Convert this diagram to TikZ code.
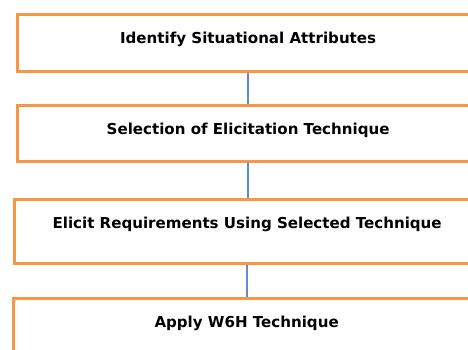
\documentclass[tikz,border=0pt]{standalone}
\usepackage{fontspec}
\setmainfont{DejaVu Sans}
\usetikzlibrary{positioning}
\definecolor{boxorange}{HTML}{F79646}
\definecolor{linkblue}{HTML}{5B8ED0}

\begin{document}
\begin{tikzpicture}[x=0.75pt, y=-0.75pt,
    stage/.style={draw=boxorange, line width=2.4pt, fill=white, anchor=north west, inner sep=0pt, text height=21.75pt, font=\bfseries\fontsize{11.3}{13}\selectfont},
    link/.style={draw=linkblue, line width=1.2pt}
]
\useasboundingbox (0,0) rectangle (468,350);

\node[stage, minimum width=346.5pt, text depth=21pt] (s1) at (15.5,12.5) {Identify Situational Attributes};
\node[stage, minimum width=346.5pt, text depth=20.25pt] (s2) at (15.5,103.5) {Selection of Elicitation Technique};
\node[stage, minimum width=348.75pt, text depth=26.25pt] (s3) at (13,197.5) {Elicit Requirements Using Selected Technique};
\node[stage, minimum width=349.5pt, text depth=30.75pt] (s4) at (12,297) {Apply W6H Technique};

\draw[link] (s1.south) -- (s1.south |- s2.north);
\draw[link] (s2.south) -- (s2.south |- s3.north);
\draw[link] (s3.south) -- (s3.south |- s4.north);
\end{tikzpicture}
\end{document}
